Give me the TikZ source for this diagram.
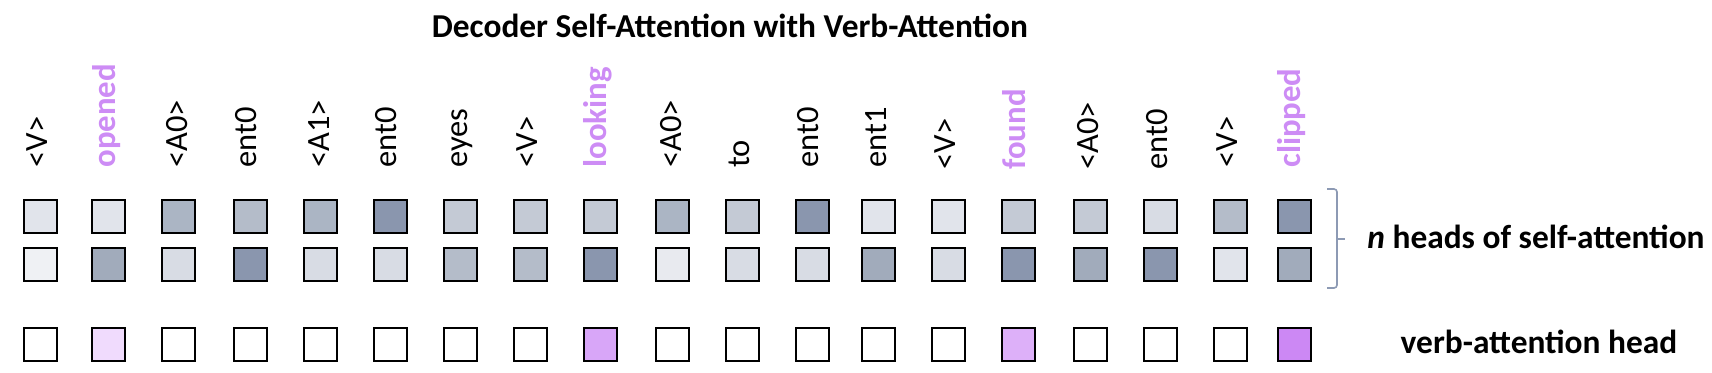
\documentclass[tikz,border=0pt]{standalone}
\usepackage{fontspec}
\setmainfont{Carlito}
\newfontfamily\calfont{Carlito}
\definecolor{ga}{HTML}{EFF1F4}
\definecolor{gb}{HTML}{E1E4EB}
\definecolor{gc}{HTML}{D8DCE4}
\definecolor{gd}{HTML}{C4CAD5}
\definecolor{ge}{HTML}{B4BCC9}
\definecolor{gf}{HTML}{ABB5C4}
\definecolor{gg}{HTML}{A1ABBB}
\definecolor{gh}{HTML}{8A96AE}
\definecolor{gi}{HTML}{E8EAEF}
\definecolor{pa}{HTML}{F0DBFD}
\definecolor{pb}{HTML}{D8A6F8}
\definecolor{pc}{HTML}{DDB0F9}
\definecolor{pd}{HTML}{CC88F4}
\definecolor{vpurple}{HTML}{CD8CF5}
\definecolor{bracecol}{HTML}{8D9AB4}
\begin{document}
\begin{tikzpicture}[x=0.5pt,y=-0.5pt,
  cell/.style={draw=black,line width=1pt,minimum size=16.5pt,inner sep=0pt,outer sep=0pt},
  tok/.style={rotate=90,anchor=base west,inner sep=0pt,font=\calfont\fontsize{16.25pt}{17pt}\selectfont},
  verbtok/.style={rotate=90,anchor=base west,inner sep=0pt,font=\calfont\bfseries\fontsize{16.4pt}{17pt}\selectfont,text=vpurple},
  lab/.style={font=\calfont\bfseries\fontsize{16.7pt}{18pt}\selectfont,inner sep=0pt,anchor=base}]
\fill[white] (0,0) rectangle (1712,372);
\useasboundingbox (0,0) rectangle (1712,372);
\node[lab] (title) at (730,37) {Decoder Self-Attention with Verb-Attention};
\foreach \x/\t/\s/\dx/\ly/\a/\b/\c [count=\i] in {
  40/{<V>}/tok/7/168/gb/ga/white,
  108/{opened}/verbtok/7/168/gb/gg/pa,
  178/{<A0>}/tok/9/168/gf/gc/white,
  250/{ent0}/tok/6/168/ge/gh/white,
  320/{<A1>}/tok/9/168/gf/gc/white,
  390/{ent0}/tok/6/168/gh/gc/white,
  460/{eyes}/tok/7/168/gd/ge/white,
  530/{<V>}/tok/7/168/gd/ge/white,
  600/{looking}/verbtok/6/168/gd/gh/pb,
  672/{<A0>}/tok/9/168/gf/gi/white,
  742/{to}/tok/7/168/gd/gc/white,
  812/{ent0}/tok/6/168/gh/gc/white,
  878/{ent1}/tok/8/168/gb/gg/white,
  948/{<V>}/tok/7/170/gb/gc/white,
  1018/{found}/verbtok/7/170/gd/gh/pc,
  1090/{<A0>}/tok/8/170/gd/gg/white,
  1160/{ent0}/tok/7/170/gc/gh/white,
  1230/{<V>}/tok/7/168/ge/gb/white,
  1294/{clipped}/verbtok/6/168/gh/gg/pd}{
  \node[\s] (t\i) at (\x+\dx,\ly) {\t};
  \node[cell,fill=\a] (ra\i) at (\x,216) {};
  \node[cell,fill=\b] (rb\i) at (\x,264) {};
  \node[cell,fill=\c] (rc\i) at (\x,344) {};
}
\draw[bracecol,line width=0.8pt,rounded corners=1.5pt]
  (1327,189) -- (1337,189) -- (1337,288) -- (1327,288);
\draw[bracecol,line width=0.8pt] (1337,239) -- (1345,239);
\node[lab] (heads) at (1536,248) {\textit{n} heads of self-attention};
\node[lab] (verbhead) at (1539,353) {verb-attention head};
\end{tikzpicture}
\end{document}
